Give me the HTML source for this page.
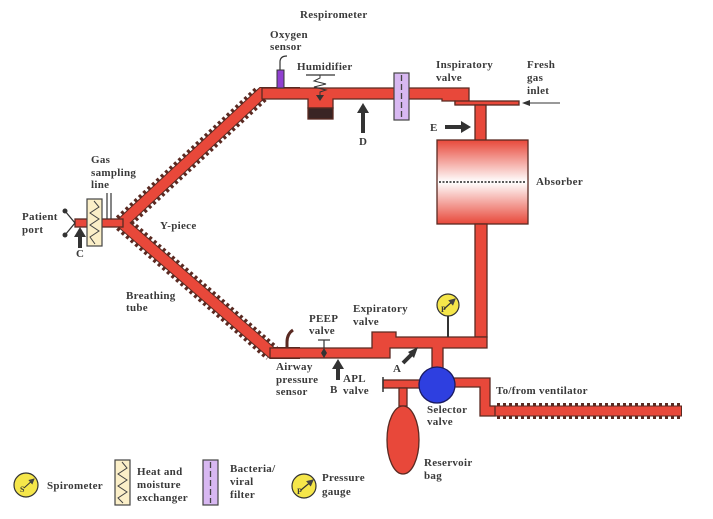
<!DOCTYPE html>
<html><head><meta charset="utf-8"><style>
html,body{margin:0;padding:0;background:#fff}
svg text{font-family:"Liberation Serif",serif;font-weight:bold;font-size:11px;fill:#3a3a3a;letter-spacing:0.3px}
</style></head><body>
<svg width="713" height="514" viewBox="0 0 713 514" xmlns="http://www.w3.org/2000/svg">
<defs>
<linearGradient id="ab" x1="0" y1="0" x2="0" y2="1">
<stop offset="0" stop-color="#e8483a"/><stop offset="0.5" stop-color="#fff"/><stop offset="1" stop-color="#e8483a"/>
</linearGradient>
<marker id="ah" markerWidth="6" markerHeight="6" refX="5" refY="3" orient="auto"><path d="M0,0 L6,3 L0,6z" fill="#444"/></marker>
</defs>
<g stroke-linejoin="miter">
<polyline points="122,223 262,93" fill="none" stroke="#5a2a22" stroke-width="18" stroke-dasharray="3,3"/>
<polyline points="122,223 272,353" fill="none" stroke="#5a2a22" stroke-width="18" stroke-dasharray="3,3"/>
<polyline points="122,223 262,93 300,93" fill="none" stroke="#5a2a22" stroke-width="12"/>
<polyline points="122,223 272,353 300,353" fill="none" stroke="#5a2a22" stroke-width="12"/>
<polyline points="122,223 262,93 300,93" fill="none" stroke="#e8483a" stroke-width="10"/>
<polyline points="122,223 272,353 300,353" fill="none" stroke="#e8483a" stroke-width="10"/>
<line x1="497" y1="411" x2="682" y2="411" stroke="#5a2a22" stroke-width="16" stroke-dasharray="3,3"/>
<line x1="490" y1="411" x2="682" y2="411" stroke="#5a2a22" stroke-width="11"/>
<line x1="490" y1="411" x2="681" y2="411" stroke="#e8483a" stroke-width="9"/>
</g>
<g fill="#e8483a" stroke="#5a2a22" stroke-width="1.3">
<path d="M262,88 H469 V104 H455 V101 H442 V99 H333 V108 H308 V99 H262 Z"/>
<rect x="308" y="108" width="25" height="11" fill="#3a2424"/>
<rect x="455" y="101" width="64" height="4"/>
<rect x="475" y="105" width="11" height="36"/>
<rect x="437" y="140" width="91" height="84" fill="url(#ab)"/>
<rect x="475" y="224" width="12" height="113"/>
<path d="M270,348 H372 V332 H396 V337 H487 V348 H443 V370 H432 V348 H390 V358 H270 Z"/>
<path d="M450,378 H490 V406 H495 V416 H480 V387 H450 Z"/>
<rect x="383" y="380" width="40" height="8"/>
<rect x="399" y="388" width="8" height="18"/>
<ellipse cx="403" cy="440" rx="16" ry="34"/>
<rect x="75" y="219" width="48" height="8"/>
</g>
<line x1="383" y1="377" x2="383" y2="392" stroke="#333" stroke-width="1.5"/>
<circle cx="437" cy="385" r="18" fill="#2e3fe0" stroke="#1a1a60" stroke-width="1.3"/>
<line x1="439" y1="182" x2="526" y2="182" stroke="#222" stroke-width="1.5" stroke-dasharray="2,1.5"/>
<line x1="448" y1="316" x2="448" y2="337" stroke="#333" stroke-width="2"/>
<circle cx="448" cy="305" r="11" fill="#f5e64a" stroke="#333" stroke-width="1.2"/>
<text x="441" y="312" style="font-size:8px">P</text>
<line x1="444" y1="309" x2="455" y2="299" stroke="#333" stroke-width="1.2" marker-end="url(#ah)"/>
<line x1="318" y1="340" x2="330" y2="340" stroke="#333" stroke-width="1.2"/>
<line x1="324" y1="340" x2="324" y2="348" stroke="#333" stroke-width="1.2"/>
<path d="M324,348 l3,5 l-3,5 l-3,-5z" fill="#333"/>
<path d="M287,348 V342 Q287,334 293,330" fill="none" stroke="#5a2a22" stroke-width="3"/>
<rect x="277" y="70" width="7" height="18" fill="#9040d0" stroke="#333"/>
<path d="M280,70 V62 Q280,56 287,56" fill="none" stroke="#333" stroke-width="1.2"/>
<line x1="306" y1="75" x2="335" y2="75" stroke="#333" stroke-width="1.2"/>
<polyline points="320,75 320,78 314,81 326,84 314,87 326,90 320,92 320,99" fill="none" stroke="#333" stroke-width="1"/>
<path d="M316,95 L324,95 L320,101z" fill="#333"/>
<rect x="394" y="73" width="15" height="47" fill="#d8b8f2" stroke="#444" stroke-width="1.2"/>
<line x1="401.5" y1="75" x2="401.5" y2="118" stroke="#444" stroke-width="1.3" stroke-dasharray="6,3"/>
<rect x="87" y="199" width="15" height="47" fill="#fbefc8" stroke="#444" stroke-width="1.2"/>
<polyline points="94,201 99,207 90,213 99,219 90,225 99,231 90,237 95,244" fill="none" stroke="#444" stroke-width="1"/>
<line x1="107" y1="193" x2="107" y2="219" stroke="#333" stroke-width="1.2"/>
<line x1="111" y1="193" x2="111" y2="219" stroke="#333" stroke-width="1.2"/>
<line x1="75" y1="223" x2="65" y2="211" stroke="#333" stroke-width="1.3"/>
<line x1="75" y1="223" x2="65" y2="235" stroke="#333" stroke-width="1.3"/>
<circle cx="65" cy="211" r="2.5" fill="#333"/><circle cx="65" cy="235" r="2.5" fill="#333"/>
<g stroke="#333" stroke-width="4" fill="none">
<line x1="80" y1="248" x2="80" y2="236"/>
<line x1="363" y1="133" x2="363" y2="112"/>
<line x1="445" y1="127" x2="462" y2="127"/>
<line x1="338" y1="380" x2="338" y2="368"/>
<line x1="403" y1="363" x2="413" y2="353"/>
<line x1="560" y1="103" x2="528" y2="103" stroke-width="1"/>
</g>
<g fill="#333">
<path d="M74,237 L80,227 L86,237z"/>
<path d="M357,113 L363,103 L369,113z"/>
<path d="M461,121 L471,127 L461,133z"/>
<path d="M332,369 L338,359 L344,369z"/>
<path d="M408,352 L418,347 L414,358z"/>
<path d="M530,100 L522,103 L530,106z"/>
</g>
<text x="300" y="18">Respirometer</text>
<text x="270" y="38">Oxygen</text><text x="270" y="50">sensor</text>
<text x="297" y="70">Humidifier</text>
<text x="436" y="68">Inspiratory</text><text x="436" y="81">valve</text>
<text x="527" y="68">Fresh</text><text x="527" y="81">gas</text><text x="527" y="94">inlet</text>
<text x="359" y="145">D</text>
<text x="430" y="131">E</text>
<text x="536" y="185">Absorber</text>
<text x="91" y="163">Gas</text><text x="91" y="176">sampling</text><text x="91" y="188">line</text>
<text x="22" y="220">Patient</text><text x="22" y="233">port</text>
<text x="76" y="257">C</text>
<text x="160" y="229">Y-piece</text>
<text x="126" y="299">Breathing</text><text x="126" y="311">tube</text>
<text x="309" y="322">PEEP</text><text x="309" y="334">valve</text>
<text x="353" y="312">Expiratory</text><text x="353" y="325">valve</text>
<text x="276" y="370">Airway</text><text x="276" y="383">pressure</text><text x="276" y="395">sensor</text>
<text x="330" y="393">B</text>
<text x="343" y="382">APL</text><text x="343" y="394">valve</text>
<text x="393" y="372">A</text>
<text x="496" y="394">To/from ventilator</text>
<text x="427" y="413">Selector</text><text x="427" y="425">valve</text>
<text x="424" y="466">Reservoir</text><text x="424" y="479">bag</text>
<circle cx="26" cy="485" r="12" fill="#f5e64a" stroke="#333" stroke-width="1.2"/>
<text x="20" y="492" style="font-size:8px">S</text>
<line x1="24" y1="488" x2="34" y2="479" stroke="#333" stroke-width="1" marker-end="url(#ah)"/>
<text x="47" y="489">Spirometer</text>
<rect x="115" y="460" width="15" height="45" fill="#fbefc8" stroke="#444" stroke-width="1.2"/>
<polyline points="122,462 127,468 118,474 127,480 118,486 127,492 118,498 123,503" fill="none" stroke="#444" stroke-width="1"/>
<text x="137" y="475">Heat and</text><text x="137" y="488">moisture</text><text x="137" y="501">exchanger</text>
<rect x="203" y="460" width="15" height="45" fill="#d8b8f2" stroke="#444" stroke-width="1.2"/>
<line x1="210.5" y1="462" x2="210.5" y2="503" stroke="#444" stroke-width="1.3" stroke-dasharray="6,3"/>
<text x="230" y="472">Bacteria/</text><text x="230" y="485">viral</text><text x="230" y="498">filter</text>
<circle cx="304" cy="486" r="12" fill="#f5e64a" stroke="#333" stroke-width="1.2"/>
<text x="297" y="494" style="font-size:8px">P</text>
<line x1="301" y1="490" x2="313" y2="480" stroke="#333" stroke-width="1.2" marker-end="url(#ah)"/>
<text x="322" y="481">Pressure</text><text x="322" y="495">gauge</text>
</svg>
</body></html>
